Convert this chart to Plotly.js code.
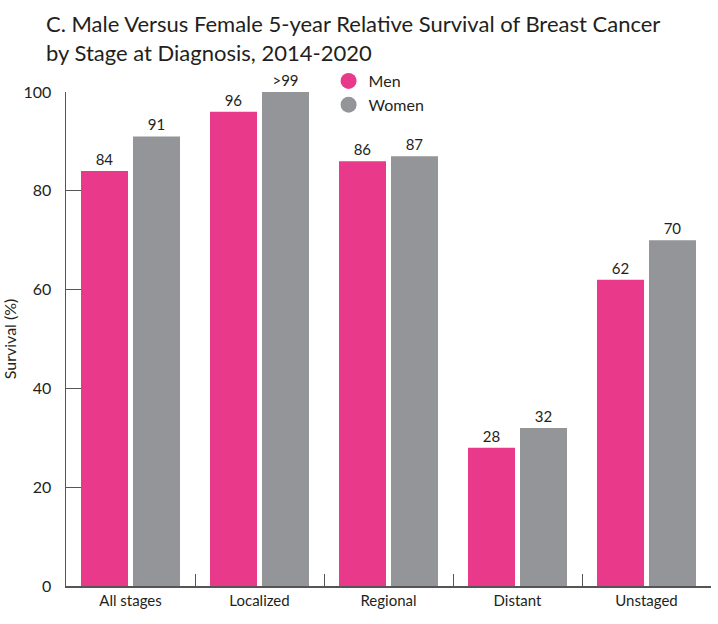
<!DOCTYPE html>
<html>
<head>
<meta charset="utf-8">
<script src="https://cdn.plot.ly/plotly-3.0.1.min.js"></script>
<style>
  html, body { margin: 0; padding: 0; background: #fff; }
  #chart { width: 718px; height: 624px; }
</style>
</head>
<body>
<div id="chart"></div>
<script>
// Five-year relative survival (%) by stage at diagnosis
const stages = ["All stages", "Localized", "Regional", "Distant", "Unstaged"];
const menSurvival = [84, 96, 86, 28, 62];
const womenSurvival = [91, 100, 87, 32, 70];
const menLabels = ["84", "96", "86", "28", "62"];
const womenLabels = ["91", ">99", "87", "32", "70"];
const yTicks = [0, 20, 40, 60, 80, 100];

const PINK = "#E8398A";
const GRAY = "#949599";
const FONT = "Lato, 'Open Sans', sans-serif";
const INK = "#231F20";

const labelFont = { family: FONT, size: 15, color: INK };

const traces = [
  {
    type: "bar", name: "Men", x: stages, y: menSurvival,
    marker: { color: PINK }, text: menLabels, textposition: "outside",
    textfont: labelFont, cliponaxis: false, showlegend: false, hoverinfo: "x+y"
  },
  {
    type: "bar", name: "Women", x: stages, y: womenSurvival,
    marker: { color: GRAY }, text: womenLabels, textposition: "outside",
    textfont: labelFont, cliponaxis: false, showlegend: false, hoverinfo: "x+y"
  },
  // legend entries drawn as round markers
  { type: "scatter", mode: "markers", name: "Men", x: [null], y: [null],
    marker: { color: PINK, size: 17, symbol: "circle" }, showlegend: true },
  { type: "scatter", mode: "markers", name: "Women", x: [null], y: [null],
    marker: { color: GRAY, size: 17, symbol: "circle" }, showlegend: true }
];

const plotTop = 92, plotH = 494;

const layout = {
  width: 718, height: 624,
  margin: { l: 66, r: 7, t: plotTop, b: 38 },
  paper_bgcolor: "#fff", plot_bgcolor: "#fff",
  font: { family: FONT, color: INK },
  annotations: [{
    text: "C. Male Versus Female 5-year Relative Survival of Breast Cancer<br>by Stage at Diagnosis, 2014-2020",
    font: { family: FONT, size: 22, color: INK },
    xref: "paper", yref: "paper",
    x: -22 / 646, xanchor: "left", y: 1 + (plotTop - 8) / plotH, yanchor: "top",
    align: "left", showarrow: false
  }],
  barmode: "group",
  bargap: 0.194,
  bargroupgap: 0.096,
  xaxis: {
    type: "category",
    range: [-0.5, 4.5],
    showline: true, linecolor: "#555", linewidth: 1.5,
    ticks: "inside", tickson: "boundaries", ticklen: 12, tickcolor: "#555", tickwidth: 1,
    tickfont: { family: FONT, size: 15, color: INK },
    showgrid: false, zeroline: false
  },
  yaxis: {
    range: [0, 100],
    tickvals: yTicks,
    showline: true, linecolor: "#555", linewidth: 1.5,
    ticks: "inside", ticklen: 15, tickcolor: "#555", tickwidth: 1,
    ticklabelstandoff: 10,
    tickfont: { family: FONT, size: 16, color: INK },
    showgrid: false, zeroline: false,
    title: { text: "Survival (%)", font: { family: FONT, size: 16, color: INK }, standoff: 4 }
  },
  legend: {
    x: 263 / 646, xref: "paper", y: 1 + 28 / plotH, yanchor: "top", xanchor: "left",
    font: { family: FONT, size: 16, color: INK },
    bgcolor: "rgba(0,0,0,0)", itemwidth: 30, tracegroupgap: 0
  },
  showlegend: true
};

Plotly.newPlot("chart", traces, layout, { displayModeBar: false, staticPlot: true });
</script>
</body>
</html>
